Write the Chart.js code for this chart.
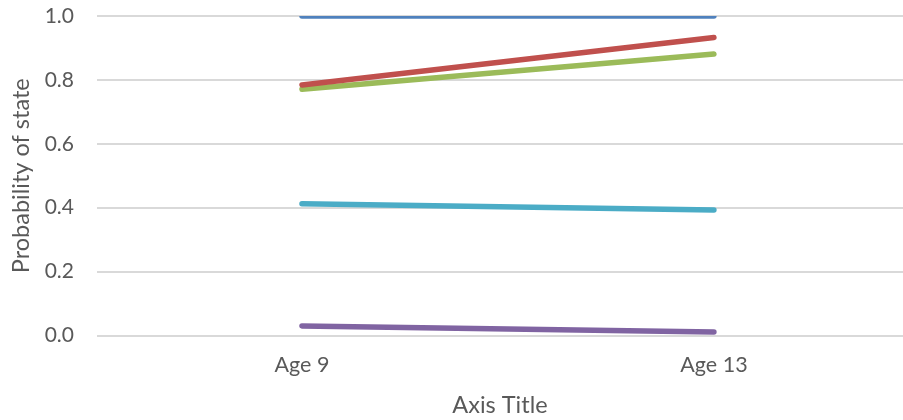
<!DOCTYPE html>
<html>
<head>
<meta charset="utf-8">
<script src="https://cdn.jsdelivr.net/npm/chart.js@4.4.1/dist/chart.umd.min.js"></script>
<style>
html,body{margin:0;padding:0;background:#fff}
#wrap{width:903px;height:420px;position:relative}
</style>
</head>
<body>
<div id="wrap"><canvas id="grafico"></canvas></div>
<script>
const categorias=["Age 9","Age 13"]
const serieAzul=[1.0,1.0]
const serieVermelha=[0.784,0.933]
const serieVerde=[0.771,0.881]
const serieCiano=[0.412,0.393]
const serieRoxa=[0.030,0.011]
const ticksY=[0.0,0.2,0.4,0.6,0.8,1.0]

const fonte="Lato, 'Open Sans', sans-serif"
const cinza="#595959"

function pontos(valores){
return valores.map((v,i)=>({x:i,y:v}))
}

function serie(valores,cor){
return {
data:pontos(valores),
borderColor:cor,
backgroundColor:cor,
borderWidth:5.5,
pointRadius:0,
borderCapStyle:"round",
tension:0
}
}

new Chart(document.getElementById("grafico"),{
type:"line",
data:{
datasets:[
serie(serieAzul,"#4F81BD"),
serie(serieVermelha,"#C0504D"),
serie(serieVerde,"#9BBB59"),
serie(serieCiano,"#4BACC6"),
serie(serieRoxa,"#8064A2")
]
},
options:{
responsive:true,
maintainAspectRatio:false,
animation:false,
layout:{padding:{top:16,right:0,bottom:0,left:0}},
plugins:{legend:{display:false},tooltip:{enabled:false}},
scales:{
x:{
type:"linear",
min:-0.4976,
max:1.459,
afterBuildTicks:s=>{s.ticks=categorias.map((c,i)=>({value:i}))},
afterFit:s=>{s.height=84.5;s.paddingLeft=0;s.paddingRight=0},
grid:{display:false,drawTicks:false},
border:{display:false},
ticks:{
padding:17,
color:cinza,
font:{family:fonte,size:21.5},
callback:v=>categorias[v]
},
title:{display:true,text:"Axis Title",color:cinza,font:{family:fonte,size:23.5},padding:{top:0,bottom:0}}
},
y:{
min:0,
max:1,
afterBuildTicks:s=>{s.ticks=ticksY.map(v=>({value:v}))},
afterFit:s=>{s.width=97;s.paddingTop=0;s.paddingBottom=0},
grid:{color:"#d9d9d9",lineWidth:2,drawTicks:false},
border:{display:false},
ticks:{
padding:23,
color:cinza,
font:{family:fonte,size:21},
callback:v=>v.toFixed(1)
},
title:{display:true,text:"Probability of state",color:cinza,font:{family:fonte,size:23.5},padding:{top:7,bottom:0}}
}
}
}
})
</script>
</body>
</html>
